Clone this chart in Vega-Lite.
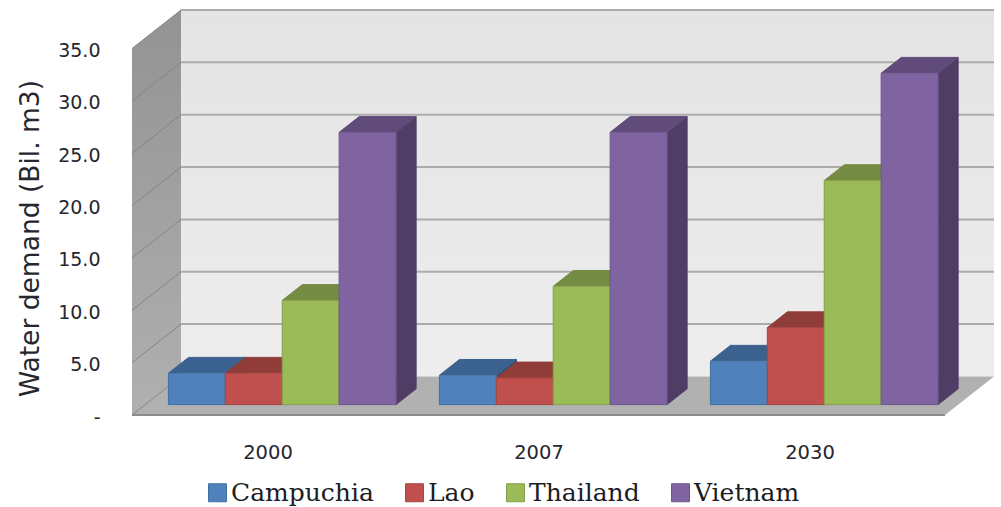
{
  "$schema": "https://vega.github.io/schema/vega-lite/v6.json",
  "width": 862,
  "height": 405,
  "autosize": {"type": "none"},
  "padding": {"left": 132, "top": 10, "right": 7, "bottom": 92},
  "background": "white",
  "config": {"view": {"stroke": null}},
  "datasets": {
    "demand": [
      {"year": "2000", "country": "Campuchia", "value": 3.0},
      {"year": "2000", "country": "Lao", "value": 3.0},
      {"year": "2000", "country": "Thailand", "value": 9.95},
      {"year": "2000", "country": "Vietnam", "value": 26.0},
      {"year": "2007", "country": "Campuchia", "value": 2.8},
      {"year": "2007", "country": "Lao", "value": 2.55},
      {"year": "2007", "country": "Thailand", "value": 11.3},
      {"year": "2007", "country": "Vietnam", "value": 26.0},
      {"year": "2030", "country": "Campuchia", "value": 4.15},
      {"year": "2030", "country": "Lao", "value": 7.35},
      {"year": "2030", "country": "Thailand", "value": 21.4},
      {"year": "2030", "country": "Vietnam", "value": 31.65}
    ],
    "ticks": [
      {"tick": 0}, {"tick": 5}, {"tick": 10}, {"tick": 15},
      {"tick": 20}, {"tick": 25}, {"tick": 30}, {"tick": 35}
    ]
  },
  "resolve": {"scale": {"fill": "independent", "stroke": "independent"}},
  "layer": [
    {
      "description": "Back wall, with the shared axes",
      "data": {"values": [{"plane": "back"}]},
      "transform": [
        {"calculate": "-0.5 + 0.1808", "as": "sx0"},
        {"calculate": "2.5 + 0.1808", "as": "sx1"},
        {"calculate": "3.68", "as": "sv0"},
        {"calculate": "35 + 3.68", "as": "sv1"}
      ],
      "mark": {
        "type": "rect",
        "fill": {
          "x1": 0, "y1": 0, "x2": 0, "y2": 1, "gradient": "linear",
          "stops": [{"offset": 0, "color": "#e4e4e4"}, {"offset": 1, "color": "#ededed"}]
        }
      },
      "encoding": {
        "x": {
          "field": "sx0", "type": "quantitative",
          "scale": {"domain": [-0.5, 2.6808], "nice": false, "zero": false},
          "axis": {
            "values": [0, 1, 2], "title": null, "domain": false, "ticks": false, "grid": false,
            "labelExpr": "['2000','2007','2030'][datum.value]",
            "labelFont": "DejaVu Sans", "labelFontSize": 19.5, "labelColor": "#26262e",
            "labelPadding": 28, "labelFlush": false
          }
        },
        "x2": {"field": "sx1"},
        "y": {
          "field": "sv0", "type": "quantitative",
          "scale": {"domain": [0, 38.68], "nice": false, "zero": false},
          "axis": {
            "values": [0, 5, 10, 15, 20, 25, 30, 35], "title": "Water demand (Bil. m3)",
            "domain": false, "ticks": false, "grid": false,
            "labelExpr": "datum.value === 0 ? '-' : format(datum.value, '.1f')",
            "labelFont": "DejaVu Sans", "labelFontSize": 19, "labelColor": "#26262e",
            "labelPadding": 32, "labelOffset": 2, "labelFlush": false,
            "titleFont": "DejaVu Sans", "titleFontSize": 26.5, "titleFontWeight": "normal",
            "titleColor": "#26262e", "titleX": -88, "titleY": 228
          }
        },
        "y2": {"field": "sv1"}
      }
    },
    {
      "description": "Left wall",
      "data": {"values": [{"plane": "left"}]},
      "transform": [
        {"calculate": "[0, 1, 2, 3]", "as": "corner"},
        {"flatten": ["corner"]},
        {"calculate": "-0.5 + [0, 0.1808, 0.1808, 0][datum.corner]", "as": "sx"},
        {"calculate": "[0, 3.68, 38.68, 35][datum.corner]", "as": "sv"}
      ],
      "mark": {
        "type": "line", "strokeWidth": 0,
        "fill": {
          "x1": 0, "y1": 0, "x2": 0, "y2": 1, "gradient": "linear",
          "stops": [{"offset": 0, "color": "#939393"}, {"offset": 1, "color": "#b0b0b0"}]
        }
      },
      "encoding": {
        "x": {"field": "sx", "type": "quantitative"},
        "y": {"field": "sv", "type": "quantitative"},
        "order": {"field": "corner"}
      }
    },
    {
      "description": "Floor",
      "data": {"values": [{"plane": "floor"}]},
      "transform": [
        {"calculate": "[0, 1, 2, 3]", "as": "corner"},
        {"flatten": ["corner"]},
        {"calculate": "[-0.5, -0.3192, 2.6808, 2.5][datum.corner]", "as": "sx"},
        {"calculate": "[0, 3.68, 3.68, 0][datum.corner]", "as": "sv"}
      ],
      "mark": {"type": "line", "strokeWidth": 0, "fill": "#b1b1b1"},
      "encoding": {
        "x": {"field": "sx", "type": "quantitative"},
        "y": {"field": "sv", "type": "quantitative"},
        "order": {"field": "corner"}
      }
    },
    {
      "description": "Darker front edge of the floor",
      "data": {"values": [{"plane": "floor edge"}]},
      "transform": [
        {"calculate": "-0.5", "as": "sx0"},
        {"calculate": "2.5", "as": "sx1"},
        {"calculate": "0", "as": "sv"}
      ],
      "mark": {"type": "rule", "stroke": "#8c8c8c", "strokeWidth": 2},
      "encoding": {
        "x": {"field": "sx0", "type": "quantitative"},
        "x2": {"field": "sx1"},
        "y": {"field": "sv", "type": "quantitative"}
      }
    },
    {
      "description": "Gridlines along the back wall",
      "data": {"name": "ticks"},
      "transform": [
        {"filter": "datum.tick > 0"},
        {"calculate": "-0.5 + 0.1808", "as": "sx0"},
        {"calculate": "2.5 + 0.1808", "as": "sx1"},
        {"calculate": "datum.tick + 3.68", "as": "sv"}
      ],
      "mark": {"type": "rule", "stroke": "#acacac", "strokeWidth": 2},
      "encoding": {
        "x": {"field": "sx0", "type": "quantitative"},
        "x2": {"field": "sx1"},
        "y": {"field": "sv", "type": "quantitative"}
      }
    },
    {
      "description": "Gridlines running down the left wall",
      "data": {"name": "ticks"},
      "transform": [
        {"calculate": "-0.5", "as": "sx0"},
        {"calculate": "-0.5 + 0.1808", "as": "sx1"},
        {"calculate": "datum.tick + 3.68", "as": "sv1"}
      ],
      "mark": {"type": "rule", "stroke": "#858585", "strokeWidth": 1},
      "encoding": {
        "x": {"field": "sx0", "type": "quantitative"},
        "x2": {"field": "sx1"},
        "y": {"field": "tick", "type": "quantitative"},
        "y2": {"field": "sv1"}
      }
    },
    {
      "description": "Right-hand faces of the bars",
      "data": {"name": "demand"},
      "transform": [
        {"calculate": "0.0055 + indexof(['2000','2007','2030'], datum.year) + (indexof(['Campuchia','Lao','Thailand','Vietnam'], datum.country) - 1) * 0.21", "as": "xr"},
        {"calculate": "[0, 1, 2, 3]", "as": "corner"},
        {"flatten": ["corner"]},
        {"calculate": "[0.27, 0.68, 0.68, 0.27][datum.corner]", "as": "depth"},
        {"calculate": "[0, 0, datum.value, datum.value][datum.corner]", "as": "height"},
        {"calculate": "datum.xr + datum.depth * 0.1808", "as": "sx"},
        {"calculate": "datum.height + datum.depth * 3.68", "as": "sv"},
        {"calculate": "datum.year + datum.country", "as": "bar"}
      ],
      "mark": {"type": "line", "strokeWidth": 1},
      "encoding": {
        "x": {"field": "sx", "type": "quantitative"},
        "y": {"field": "sv", "type": "quantitative"},
        "detail": {"field": "bar"},
        "order": {"field": "corner"},
        "fill": {
          "field": "country", "type": "nominal", "legend": null,
          "scale": {"domain": ["Campuchia", "Lao", "Thailand", "Vietnam"], "range": ["#2f4e72", "#733130", "#5d6f36", "#4f3d66"]}
        },
        "stroke": {
          "field": "country", "type": "nominal", "legend": null,
          "scale": {"domain": ["Campuchia", "Lao", "Thailand", "Vietnam"], "range": ["#2f4e72", "#733130", "#5d6f36", "#4f3d66"]}
        }
      }
    },
    {
      "description": "Top faces of the bars",
      "data": {"name": "demand"},
      "transform": [
        {"calculate": "0.0055 + indexof(['2000','2007','2030'], datum.year) + (indexof(['Campuchia','Lao','Thailand','Vietnam'], datum.country) - 2) * 0.21", "as": "xl"},
        {"calculate": "[0, 1, 2, 3]", "as": "corner"},
        {"flatten": ["corner"]},
        {"calculate": "[0.27, 0.68, 0.68, 0.27][datum.corner]", "as": "depth"},
        {"calculate": "datum.xl + [0, 0, 0.21, 0.21][datum.corner] + datum.depth * 0.1808", "as": "sx"},
        {"calculate": "datum.value + datum.depth * 3.68", "as": "sv"},
        {"calculate": "datum.year + datum.country", "as": "bar"}
      ],
      "mark": {"type": "line", "strokeWidth": 1},
      "encoding": {
        "x": {"field": "sx", "type": "quantitative"},
        "y": {"field": "sv", "type": "quantitative"},
        "detail": {"field": "bar"},
        "order": {"field": "corner"},
        "fill": {
          "field": "country", "type": "nominal", "legend": null,
          "scale": {"domain": ["Campuchia", "Lao", "Thailand", "Vietnam"], "range": ["#3b618e", "#903c39", "#748b43", "#604b7a"]}
        },
        "stroke": {
          "field": "country", "type": "nominal", "legend": null,
          "scale": {"domain": ["Campuchia", "Lao", "Thailand", "Vietnam"], "range": ["#3b618e", "#903c39", "#748b43", "#604b7a"]}
        }
      }
    },
    {
      "description": "Front faces of the bars, carrying the legend",
      "data": {"name": "demand"},
      "transform": [
        {"calculate": "0.0055 + indexof(['2000','2007','2030'], datum.year) + (indexof(['Campuchia','Lao','Thailand','Vietnam'], datum.country) - 2) * 0.21 + 0.27 * 0.1808", "as": "sx0"},
        {"calculate": "datum.sx0 + 0.21", "as": "sx1"},
        {"calculate": "0.27 * 3.68", "as": "sv0"},
        {"calculate": "datum.value + 0.27 * 3.68", "as": "sv1"}
      ],
      "mark": {"type": "rect", "strokeWidth": 1},
      "encoding": {
        "x": {"field": "sx0", "type": "quantitative"},
        "x2": {"field": "sx1"},
        "y": {"field": "sv0", "type": "quantitative"},
        "y2": {"field": "sv1"},
        "fill": {
          "field": "country", "type": "nominal",
          "scale": {"domain": ["Campuchia", "Lao", "Thailand", "Vietnam"], "range": ["#4f81bd", "#c0504d", "#9bbb59", "#8064a2"]},
          "legend": {
            "title": null, "orient": "none", "direction": "horizontal", "columns": 4, "gridAlign": "each",
            "legendX": 73, "legendY": 470, "symbolType": "square", "symbolSize": 324,
            "symbolStrokeWidth": 1, "symbolStrokeColor": "#3f6c9f",
            "labelFont": "DejaVu Serif", "labelFontSize": 25, "labelColor": "#1c1c24",
            "labelOffset": 1, "columnPadding": 28, "labelLimit": 200
          }
        },
        "stroke": {
          "field": "country", "type": "nominal", "legend": null,
          "scale": {"domain": ["Campuchia", "Lao", "Thailand", "Vietnam"], "range": ["#41709f", "#a84441", "#84a049", "#6f568f"]}
        }
      }
    }
  ]
}
